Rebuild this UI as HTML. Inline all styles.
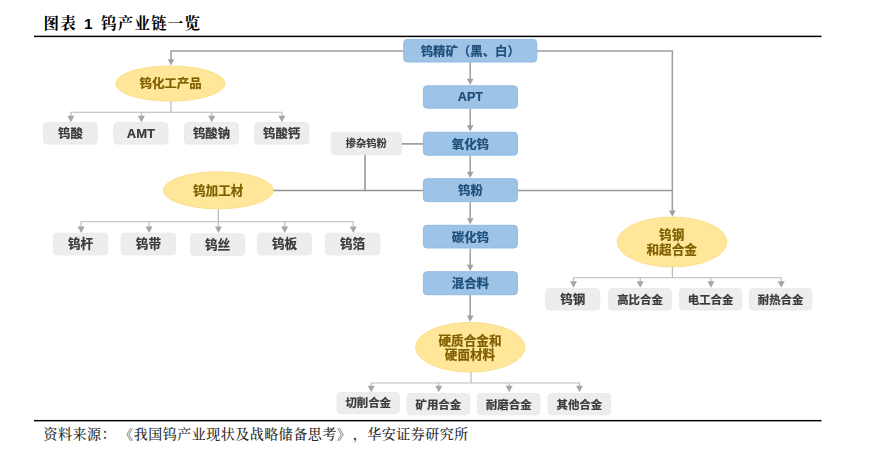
<!DOCTYPE html>
<html lang="zh-CN">
<head>
<meta charset="utf-8">
<title>图表 1 钨产业链一览</title>
<style>
html,body{margin:0;padding:0;background:#fff;}
body{width:869px;height:451px;overflow:hidden;position:relative;}
svg{display:block;position:absolute;left:0;top:0;}
svg.chart{will-change:transform;}
text{font-family:"Liberation Sans","Noto Sans CJK SC",sans-serif;text-anchor:middle;dominant-baseline:central;}
.b{font-weight:700;stroke-width:0.22px;stroke-linejoin:round;}
.m{font-weight:700;stroke-width:0.1px;stroke-linejoin:round;}
.title{font-family:"Liberation Sans","Noto Serif CJK SC",serif;font-weight:700;font-size:15.5px;fill:#000;text-anchor:start;dominant-baseline:alphabetic;}
.foot{font-family:"Liberation Serif","Noto Serif CJK SC",serif;font-weight:500;font-size:14px;fill:#2a2a2a;text-anchor:start;dominant-baseline:alphabetic;}
</style>
</head>
<body>
<svg class="page" width="869" height="451" viewBox="0 0 869 451">
<rect x="34" y="35.65" width="787.5" height="1.5" fill="#000"/>
<rect x="34" y="419.95" width="787.5" height="1.45" fill="#000"/>
<text x="43.6" y="29.4" class="title" letter-spacing="1.2" word-spacing="1.6">图表 <tspan dy="-0.7">1</tspan><tspan dy="0.7"> 钨产业链一览</tspan></text>
<text y="439.2" class="foot" letter-spacing="0.5"><tspan x="43.5">资料来源：</tspan><tspan x="119.2">《我国钨产业现状及战略储备思考》</tspan><tspan x="352.8">，华安证券研究所</tspan></text>
</svg>
<svg class="chart" width="869" height="451" viewBox="0 0 869 451">
<path d="M404 50.9 L171.05 50.9 L171.05 60" fill="none" stroke="#9e9e9e" stroke-width="1.5"/>
<path d="M167.75 59.2 L174.35 59.2 L171.05 65.5 Z" fill="#a0a0a0"/>
<path d="M536 50.9 L672.35 50.9 L672.35 211" fill="none" stroke="#9e9e9e" stroke-width="1.5"/>
<path d="M669.05 210.4 L675.65 210.4 L672.35 216.7 Z" fill="#a0a0a0"/>
<path d="M517 190.4 L672.35 190.4" fill="none" stroke="#989898" stroke-width="1.5"/>
<path d="M273 190.45 L424 190.45" fill="none" stroke="#929292" stroke-width="1.5"/>
<path d="M401 143.9 L424 143.9" fill="none" stroke="#929292" stroke-width="1.5"/>
<path d="M365.05 154 L365.05 190.4" fill="none" stroke="#929292" stroke-width="1.5"/>
<path d="M470.2 62 L470.2 80.3" fill="none" stroke="#9e9e9e" stroke-width="1.5"/>
<path d="M466.9 78.8 L473.5 78.8 L470.2 85.1 Z" fill="#a0a0a0"/>
<path d="M470.2 108.5 L470.2 126.7" fill="none" stroke="#9e9e9e" stroke-width="1.5"/>
<path d="M466.9 125.2 L473.5 125.2 L470.2 131.5 Z" fill="#a0a0a0"/>
<path d="M470.2 155.5 L470.2 173.2" fill="none" stroke="#9e9e9e" stroke-width="1.5"/>
<path d="M466.9 171.7 L473.5 171.7 L470.2 178 Z" fill="#a0a0a0"/>
<path d="M470.2 202 L470.2 219.8" fill="none" stroke="#9e9e9e" stroke-width="1.5"/>
<path d="M466.9 218.3 L473.5 218.3 L470.2 224.6 Z" fill="#a0a0a0"/>
<path d="M470.2 248.5 L470.2 266.2" fill="none" stroke="#9e9e9e" stroke-width="1.5"/>
<path d="M466.9 264.7 L473.5 264.7 L470.2 271 Z" fill="#a0a0a0"/>
<path d="M470.2 295 L470.2 317" fill="none" stroke="#9e9e9e" stroke-width="1.5"/>
<path d="M466.9 315.5 L473.5 315.5 L470.2 321.8 Z" fill="#a0a0a0"/>
<path d="M171 101 L171 112.2" fill="none" stroke="#b9b9b9" stroke-width="1.2"/>
<path d="M70.9 117.2 L70.9 112.2 L281.9 112.2 L281.9 117.2" fill="none" stroke="#b9b9b9" stroke-width="1.1"/>
<path d="M141.4 112.2 L141.4 117.2" fill="none" stroke="#b9b9b9" stroke-width="1.1"/>
<path d="M211.7 112.2 L211.7 117.2" fill="none" stroke="#b9b9b9" stroke-width="1.1"/>
<path d="M67.4 115.7 L74.4 115.7 L70.9 122.2 Z" fill="#a6a6a6"/>
<path d="M137.9 115.7 L144.9 115.7 L141.4 122.2 Z" fill="#a6a6a6"/>
<path d="M208.2 115.7 L215.2 115.7 L211.7 122.2 Z" fill="#a6a6a6"/>
<path d="M278.4 115.7 L285.4 115.7 L281.9 122.2 Z" fill="#a6a6a6"/>
<path d="M218.4 209 L218.4 221.7" fill="none" stroke="#b9b9b9" stroke-width="1.2"/>
<path d="M81.1 227.9 L81.1 221.7 L353.25 221.7 L353.25 227.9" fill="none" stroke="#b9b9b9" stroke-width="1.1"/>
<path d="M149.1 221.7 L149.1 227.9" fill="none" stroke="#b9b9b9" stroke-width="1.1"/>
<path d="M218.4 221.7 L218.4 227.9" fill="none" stroke="#b9b9b9" stroke-width="1.1"/>
<path d="M284.7 221.7 L284.7 227.9" fill="none" stroke="#b9b9b9" stroke-width="1.1"/>
<path d="M77.6 226.4 L84.6 226.4 L81.1 232.9 Z" fill="#a6a6a6"/>
<path d="M145.6 226.4 L152.6 226.4 L149.1 232.9 Z" fill="#a6a6a6"/>
<path d="M214.9 226.4 L221.9 226.4 L218.4 232.9 Z" fill="#a6a6a6"/>
<path d="M281.2 226.4 L288.2 226.4 L284.7 232.9 Z" fill="#a6a6a6"/>
<path d="M349.75 226.4 L356.75 226.4 L353.25 232.9 Z" fill="#a6a6a6"/>
<path d="M672.35 267 L672.35 277.7" fill="none" stroke="#b9b9b9" stroke-width="1.2"/>
<path d="M573.5 282.7 L573.5 277.7 L781.25 277.7 L781.25 282.7" fill="none" stroke="#b9b9b9" stroke-width="1.1"/>
<path d="M640.25 277.7 L640.25 282.7" fill="none" stroke="#b9b9b9" stroke-width="1.1"/>
<path d="M711 277.7 L711 282.7" fill="none" stroke="#b9b9b9" stroke-width="1.1"/>
<path d="M570 281.2 L577 281.2 L573.5 287.7 Z" fill="#a6a6a6"/>
<path d="M636.75 281.2 L643.75 281.2 L640.25 287.7 Z" fill="#a6a6a6"/>
<path d="M707.5 281.2 L714.5 281.2 L711 287.7 Z" fill="#a6a6a6"/>
<path d="M777.75 281.2 L784.75 281.2 L781.25 287.7 Z" fill="#a6a6a6"/>
<path d="M471 372 L471 383" fill="none" stroke="#b9b9b9" stroke-width="1.2"/>
<path d="M371.25 387.2 L371.25 383 L579.5 383 L579.5 387.2" fill="none" stroke="#b9b9b9" stroke-width="1.1"/>
<path d="M438.75 383 L438.75 387.2" fill="none" stroke="#b9b9b9" stroke-width="1.1"/>
<path d="M509.25 383 L509.25 387.2" fill="none" stroke="#b9b9b9" stroke-width="1.1"/>
<path d="M367.75 385.7 L374.75 385.7 L371.25 392.2 Z" fill="#a6a6a6"/>
<path d="M435.25 385.7 L442.25 385.7 L438.75 392.2 Z" fill="#a6a6a6"/>
<path d="M505.75 385.7 L512.75 385.7 L509.25 392.2 Z" fill="#a6a6a6"/>
<path d="M576 385.7 L583 385.7 L579.5 392.2 Z" fill="#a6a6a6"/>
<rect x="403.7" y="39.4" width="133.1" height="22.6" rx="3.5" ry="3.5" fill="#9dc3e6" stroke="#93bbe1" stroke-width="1"/>
<text x="470.25" y="51.6" font-size="12.4" fill="#1f4e79" stroke="#1f4e79" class="b">钨精矿（黑、白）</text>
<rect x="423.4" y="85.85" width="94" height="22.35" rx="3.5" ry="3.5" fill="#9dc3e6" stroke="#93bbe1" stroke-width="1"/>
<text x="470.4" y="96.73" font-size="12.65" fill="#1f4e79" stroke="#1f4e79" class="b">APT</text>
<rect x="423.4" y="132.25" width="94" height="22.95" rx="3.5" ry="3.5" fill="#9dc3e6" stroke="#93bbe1" stroke-width="1"/>
<text x="470.4" y="144.62" font-size="12.4" fill="#1f4e79" stroke="#1f4e79" class="b">氧化钨</text>
<rect x="423.4" y="178.75" width="94" height="22.85" rx="3.5" ry="3.5" fill="#9dc3e6" stroke="#93bbe1" stroke-width="1"/>
<text x="470.4" y="191.08" font-size="12.4" fill="#1f4e79" stroke="#1f4e79" class="b">钨粉</text>
<rect x="423.4" y="225.3" width="94" height="22.7" rx="3.5" ry="3.5" fill="#9dc3e6" stroke="#93bbe1" stroke-width="1"/>
<text x="470.4" y="237.55" font-size="12.4" fill="#1f4e79" stroke="#1f4e79" class="b">碳化钨</text>
<rect x="423.4" y="271.7" width="94" height="23" rx="3.5" ry="3.5" fill="#9dc3e6" stroke="#93bbe1" stroke-width="1"/>
<text x="470.4" y="284.1" font-size="12.4" fill="#1f4e79" stroke="#1f4e79" class="b">混合料</text>
<ellipse cx="170.3" cy="83.55" rx="54.6" ry="17.6" fill="#ffe699" stroke="#fbdf8c" stroke-width="1"/>
<text x="170.6" y="83.9" font-size="12.45" fill="#7f6000" stroke="#7f6000" class="b">钨化工产品</text>
<ellipse cx="218.3" cy="190.3" rx="54.9" ry="18.5" fill="#ffe699" stroke="#fbdf8c" stroke-width="1"/>
<text x="218.2" y="190.6" font-size="12.6" fill="#7f6000" stroke="#7f6000" class="b">钨加工材</text>
<ellipse cx="672.1" cy="242" rx="54.8" ry="24.9" fill="#ffe699" stroke="#fbdf8c" stroke-width="1"/>
<text x="671.7" y="235.1" font-size="12.6" fill="#7f6000" stroke="#7f6000" class="b">钨钢</text>
<text x="671.7" y="250" font-size="12.6" fill="#7f6000" stroke="#7f6000" class="b">和超合金</text>
<ellipse cx="470.25" cy="347.25" rx="54.75" ry="24.8" fill="#ffe699" stroke="#fbdf8c" stroke-width="1"/>
<text x="470" y="340.8" font-size="12.6" fill="#7f6000" stroke="#7f6000" class="b">硬质合金和</text>
<text x="470" y="355.4" font-size="12.6" fill="#7f6000" stroke="#7f6000" class="b">硬面材料</text>
<rect x="43.5" y="122.6" width="53.8" height="21.5" rx="3.5" ry="3.5" fill="#ededed" stroke="#ebebeb" stroke-width="1"/>
<text x="70.4" y="133.7" font-size="12.4" fill="#3a3a3a" stroke="#3a3a3a" class="b">钨酸</text>
<rect x="113.8" y="122.6" width="54.1" height="21.5" rx="3.5" ry="3.5" fill="#ededed" stroke="#ebebeb" stroke-width="1"/>
<text x="140.85" y="133.1" font-size="13.02" fill="#3a3a3a" stroke="#3a3a3a" class="b">AMT</text>
<rect x="184.5" y="122.6" width="54" height="21.5" rx="3.5" ry="3.5" fill="#ededed" stroke="#ebebeb" stroke-width="1"/>
<text x="211.5" y="133.7" font-size="12.4" fill="#3a3a3a" stroke="#3a3a3a" class="b">钨酸钠</text>
<rect x="254.5" y="122.6" width="54.25" height="21.5" rx="3.5" ry="3.5" fill="#ededed" stroke="#ebebeb" stroke-width="1"/>
<text x="281.62" y="133.7" font-size="12.4" fill="#3a3a3a" stroke="#3a3a3a" class="b">钨酸钙</text>
<rect x="53.4" y="233.2" width="54.2" height="21.7" rx="3.5" ry="3.5" fill="#ededed" stroke="#ebebeb" stroke-width="1"/>
<text x="80.5" y="244.4" font-size="12.6" fill="#3a3a3a" stroke="#3a3a3a" class="b">钨杆</text>
<rect x="121.2" y="233.2" width="54.5" height="21.7" rx="3.5" ry="3.5" fill="#ededed" stroke="#ebebeb" stroke-width="1"/>
<text x="148.45" y="244.4" font-size="12.6" fill="#3a3a3a" stroke="#3a3a3a" class="b">钨带</text>
<rect x="190.5" y="233.8" width="54.2" height="21.7" rx="3.5" ry="3.5" fill="#ededed" stroke="#ebebeb" stroke-width="1"/>
<text x="217.6" y="245" font-size="12.6" fill="#3a3a3a" stroke="#3a3a3a" class="b">钨丝</text>
<rect x="257.5" y="233.2" width="54.1" height="21.7" rx="3.5" ry="3.5" fill="#ededed" stroke="#ebebeb" stroke-width="1"/>
<text x="284.55" y="244.4" font-size="12.6" fill="#3a3a3a" stroke="#3a3a3a" class="b">钨板</text>
<rect x="325.5" y="233.2" width="54.25" height="21.7" rx="3.5" ry="3.5" fill="#ededed" stroke="#ebebeb" stroke-width="1"/>
<text x="352.62" y="244.4" font-size="12.6" fill="#3a3a3a" stroke="#3a3a3a" class="b">钨箔</text>
<rect x="545.75" y="288.5" width="54" height="21.5" rx="3.5" ry="3.5" fill="#ededed" stroke="#ebebeb" stroke-width="1"/>
<text x="572.75" y="299.65" font-size="12.5" fill="#3a3a3a" stroke="#3a3a3a" class="b">钨钢</text>
<rect x="608.75" y="288.5" width="62.5" height="21.5" rx="3.5" ry="3.5" fill="#ededed" stroke="#ebebeb" stroke-width="1"/>
<text x="640" y="299.65" font-size="11.4" fill="#3a3a3a" stroke="#3a3a3a" class="b">高比合金</text>
<rect x="679.5" y="288.5" width="62.25" height="21.5" rx="3.5" ry="3.5" fill="#ededed" stroke="#ebebeb" stroke-width="1"/>
<text x="710.62" y="299.65" font-size="11.4" fill="#3a3a3a" stroke="#3a3a3a" class="b">电工合金</text>
<rect x="749.5" y="288.5" width="62.25" height="21.5" rx="3.5" ry="3.5" fill="#ededed" stroke="#ebebeb" stroke-width="1"/>
<text x="780.62" y="299.65" font-size="11.4" fill="#3a3a3a" stroke="#3a3a3a" class="b">耐热合金</text>
<rect x="337" y="392.3" width="62.4" height="21.2" rx="3.5" ry="3.5" fill="#ededed" stroke="#ebebeb" stroke-width="1"/>
<text x="368.2" y="403.3" font-size="11.4" fill="#3a3a3a" stroke="#3a3a3a" class="b">切削合金</text>
<rect x="406.9" y="393.5" width="62.85" height="21.3" rx="3.5" ry="3.5" fill="#ededed" stroke="#ebebeb" stroke-width="1"/>
<text x="438.32" y="404.55" font-size="11.4" fill="#3a3a3a" stroke="#3a3a3a" class="b">矿用合金</text>
<rect x="477.5" y="393.5" width="62.5" height="21.3" rx="3.5" ry="3.5" fill="#ededed" stroke="#ebebeb" stroke-width="1"/>
<text x="508.75" y="404.55" font-size="11.4" fill="#3a3a3a" stroke="#3a3a3a" class="b">耐磨合金</text>
<rect x="548" y="393.5" width="62.75" height="21.3" rx="3.5" ry="3.5" fill="#ededed" stroke="#ebebeb" stroke-width="1"/>
<text x="579.38" y="404.55" font-size="11.4" fill="#3a3a3a" stroke="#3a3a3a" class="b">其他合金</text>
<rect x="331.2" y="132.3" width="70.2" height="22.3" rx="3.5" ry="3.5" fill="#ededed" stroke="#ebebeb" stroke-width="1"/>
<text x="366.3" y="143.85" font-size="10.3" fill="#3a3a3a" stroke="#3a3a3a" class="m">掺杂钨粉</text>
</svg>
</body>
</html>
